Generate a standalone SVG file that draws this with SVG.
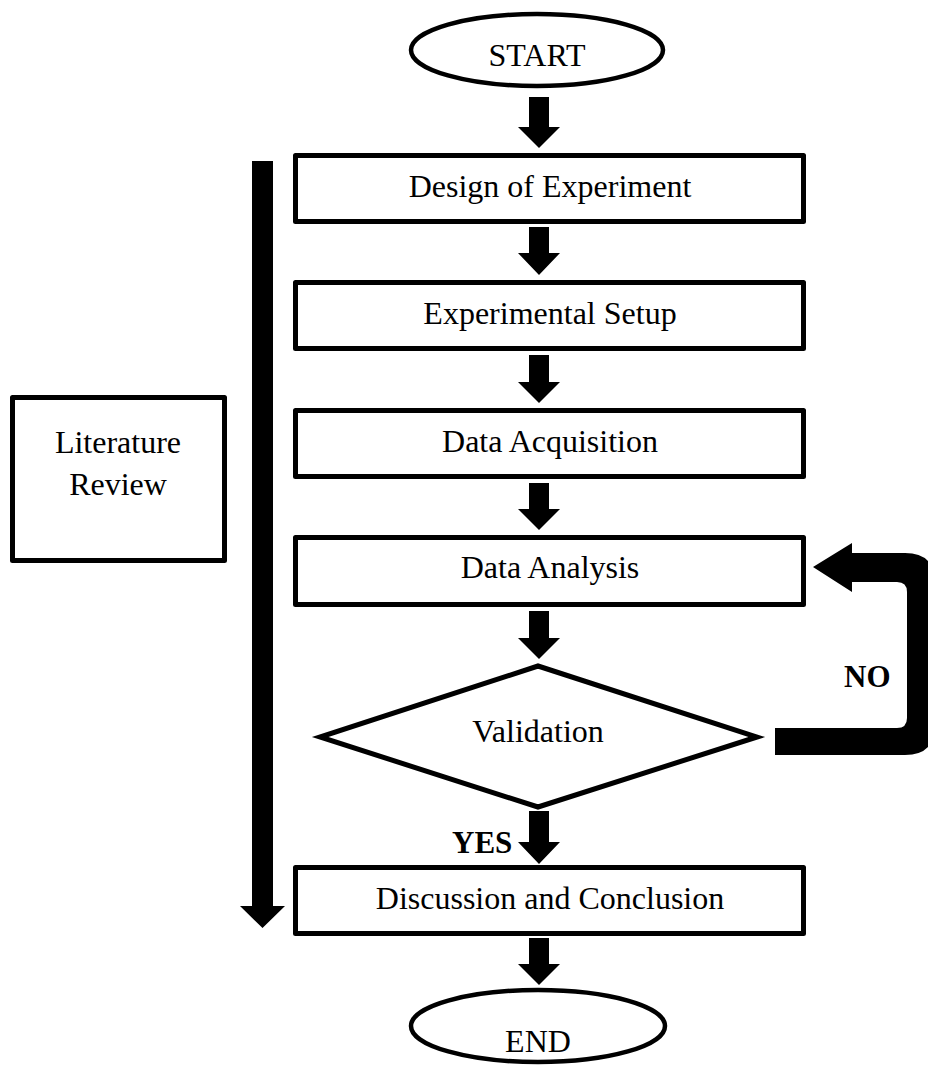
<svg xmlns="http://www.w3.org/2000/svg" width="928" height="1068" viewBox="0 0 928 1068">
  <style>
    .box { fill: #fff; stroke: #000; stroke-width: 5; stroke-linejoin: round; }
    .term { fill: #fff; stroke: #000; stroke-width: 4.5; }
    .dec { fill: #fff; stroke: #000; stroke-width: 5; stroke-linejoin: miter; }
    .lbl { font-family: "Liberation Serif", "Times New Roman", serif; font-size: 32px; fill: #000; text-anchor: middle; }
    .bold { font-family: "Liberation Serif", "Times New Roman", serif; font-size: 31px; font-weight: bold; fill: #000; }
    .arrow { fill: #000; stroke: none; }
  </style>

  <!-- connectors: block arrows -->
  <g id="connectors">
    <!-- START -> Design of Experiment -->
    <path class="arrow" d="M529 97 H549 V127 H560 L539 148 L518 127 H529 Z"/>
    <!-- Design of Experiment -> Experimental Setup -->
    <path class="arrow" d="M529 227 H549 V253 H560 L539 275 L518 253 H529 Z"/>
    <!-- Experimental Setup -> Data Acquisition -->
    <path class="arrow" d="M529 355 H549 V382 H560 L539 403 L518 382 H529 Z"/>
    <!-- Data Acquisition -> Data Analysis -->
    <path class="arrow" d="M529 483 H549 V509 H560 L539 530 L518 509 H529 Z"/>
    <!-- Data Analysis -> Validation -->
    <path class="arrow" d="M529 611 H549 V638 H560 L539 659 L518 638 H529 Z"/>
    <!-- Validation -> Discussion and Conclusion (YES) -->
    <path class="arrow" d="M529 811 H549 V842 H560 L539 864 L518 842 H529 Z"/>
    <!-- Discussion and Conclusion -> END -->
    <path class="arrow" d="M529 938 H549 V964 H560 L539 985 L518 964 H529 Z"/>
    <!-- long literature-review arrow along the left side -->
    <path class="arrow" d="M252 161 H273 V906 H285 L262.5 928 L240 906 H252 Z"/>
    <!-- NO loop: Validation back to Data Analysis -->
    <path class="arrow" d="M775 728 L897 728 Q907 728 907 718 L907 592 Q907 582 897 582 L852 582 L852 592 L813 567 L852 543 L852 553 L905 553 Q935 553 935 583 L935 725 Q935 755 905 755 L775 755 Z"/>
    <text class="bold" x="844" y="687">NO</text>
    <text class="bold" x="452" y="853">YES</text>
  </g>

  <g id="start">
    <ellipse class="term" cx="537" cy="50" rx="126" ry="36"/>
    <text class="lbl" x="537" y="66">START</text>
  </g>

  <g id="design">
    <rect class="box" x="295.5" y="155.5" width="508" height="66"/>
    <text class="lbl" x="550" y="197">Design of Experiment</text>
  </g>

  <g id="setup">
    <rect class="box" x="295.5" y="282.5" width="508" height="66"/>
    <text class="lbl" x="550" y="324">Experimental Setup</text>
  </g>

  <g id="acquisition">
    <rect class="box" x="295.5" y="410.5" width="508" height="66"/>
    <text class="lbl" x="550" y="452">Data Acquisition</text>
  </g>

  <g id="analysis">
    <rect class="box" x="295.5" y="537.5" width="508" height="67"/>
    <text class="lbl" x="550" y="578">Data Analysis</text>
  </g>

  <g id="validation">
    <polygon class="dec" points="538,666 757,737 538,807 320,737"/>
    <text class="lbl" x="538" y="742">Validation</text>
  </g>

  <g id="discussion">
    <rect class="box" x="295.5" y="867.5" width="508" height="66"/>
    <text class="lbl" x="550" y="909">Discussion and Conclusion</text>
  </g>

  <g id="end">
    <ellipse class="term" cx="538" cy="1026" rx="127" ry="36"/>
    <text class="lbl" x="538" y="1052">END</text>
  </g>

  <g id="literature">
    <rect class="box" x="12.5" y="397.5" width="212" height="163"/>
    <text class="lbl" x="118" y="453">Literature</text>
    <text class="lbl" x="118" y="495">Review</text>
  </g>
</svg>
